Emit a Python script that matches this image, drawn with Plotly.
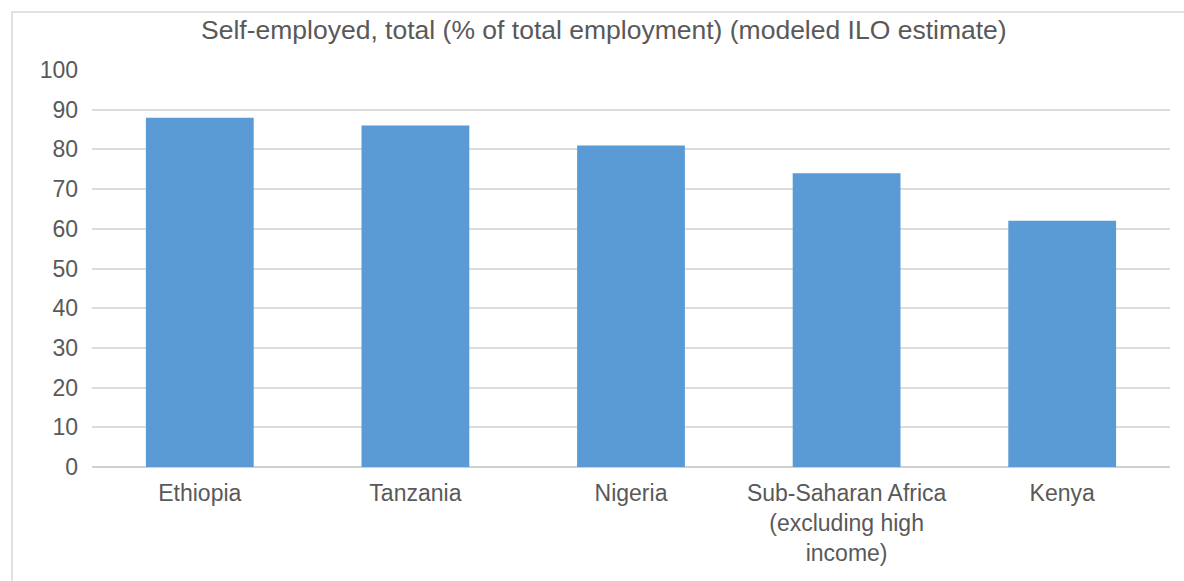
import plotly.graph_objects as go

# Self-employment share by country / region
categories = [
    "Ethiopia",
    "Tanzania",
    "Nigeria",
    "Sub-Saharan Africa<br>(excluding high<br>income)",
    "Kenya",
]
values = [88, 86, 81, 74, 62]
y_ticks = [0, 10, 20, 30, 40, 50, 60, 70, 80, 90, 100]

W, H = 1184, 581
L, R, T, B = 92, 14, 70, 114
pw, ph = W - L - R, H - T - B

def px(x):
    return (x - L) / pw

def py(y):
    return (H - B - y) / ph

text_color = "#595959"
font_family = "Liberation Sans, Arial, sans-serif"

fig = go.Figure(
    go.Bar(
        x=categories,
        y=values,
        marker=dict(color="#5B9BD5", line=dict(width=0)),
        hoverinfo="x+y",
    )
)

fig.update_layout(
    width=W,
    height=H,
    margin=dict(l=L, r=R, t=T, b=B),
    paper_bgcolor="white",
    plot_bgcolor="white",
    bargap=0.5,
    showlegend=False,
    font=dict(family=font_family, color=text_color, size=23),
    title=dict(
        text="Self-employed, total (% of total employment) (modeled ILO estimate)",
        x=0.51,
        xanchor="center",
        y=1 - 30 / H,
        yanchor="middle",
        font=dict(size=26.5, color=text_color, family=font_family),
    ),
    xaxis=dict(
        showgrid=False,
        showline=False,
        ticks="",
        tickfont=dict(size=23, color=text_color),
        ticklabelstandoff=10,
    ),
    yaxis=dict(
        range=[0, 100],
        tickvals=y_ticks,
        showgrid=True,
        gridcolor="#dcdcdc",
        gridwidth=1.5,
        zeroline=True,
        zerolinecolor="#d0d0d0",
        zerolinewidth=1.5,
        showline=False,
        ticks="",
        tickfont=dict(size=23, color=text_color),
        ticklabelstandoff=13,
    ),
    shapes=[
        dict(
            type="rect",
            xref="paper",
            yref="paper",
            x0=px(12),
            x1=px(W + 20),
            y0=py(H + 20),
            y1=py(12),
            line=dict(color="#d9d9d9", width=1.5),
            fillcolor="rgba(0,0,0,0)",
            layer="below",
        )
    ],
)

fig.write_html("out.html")
